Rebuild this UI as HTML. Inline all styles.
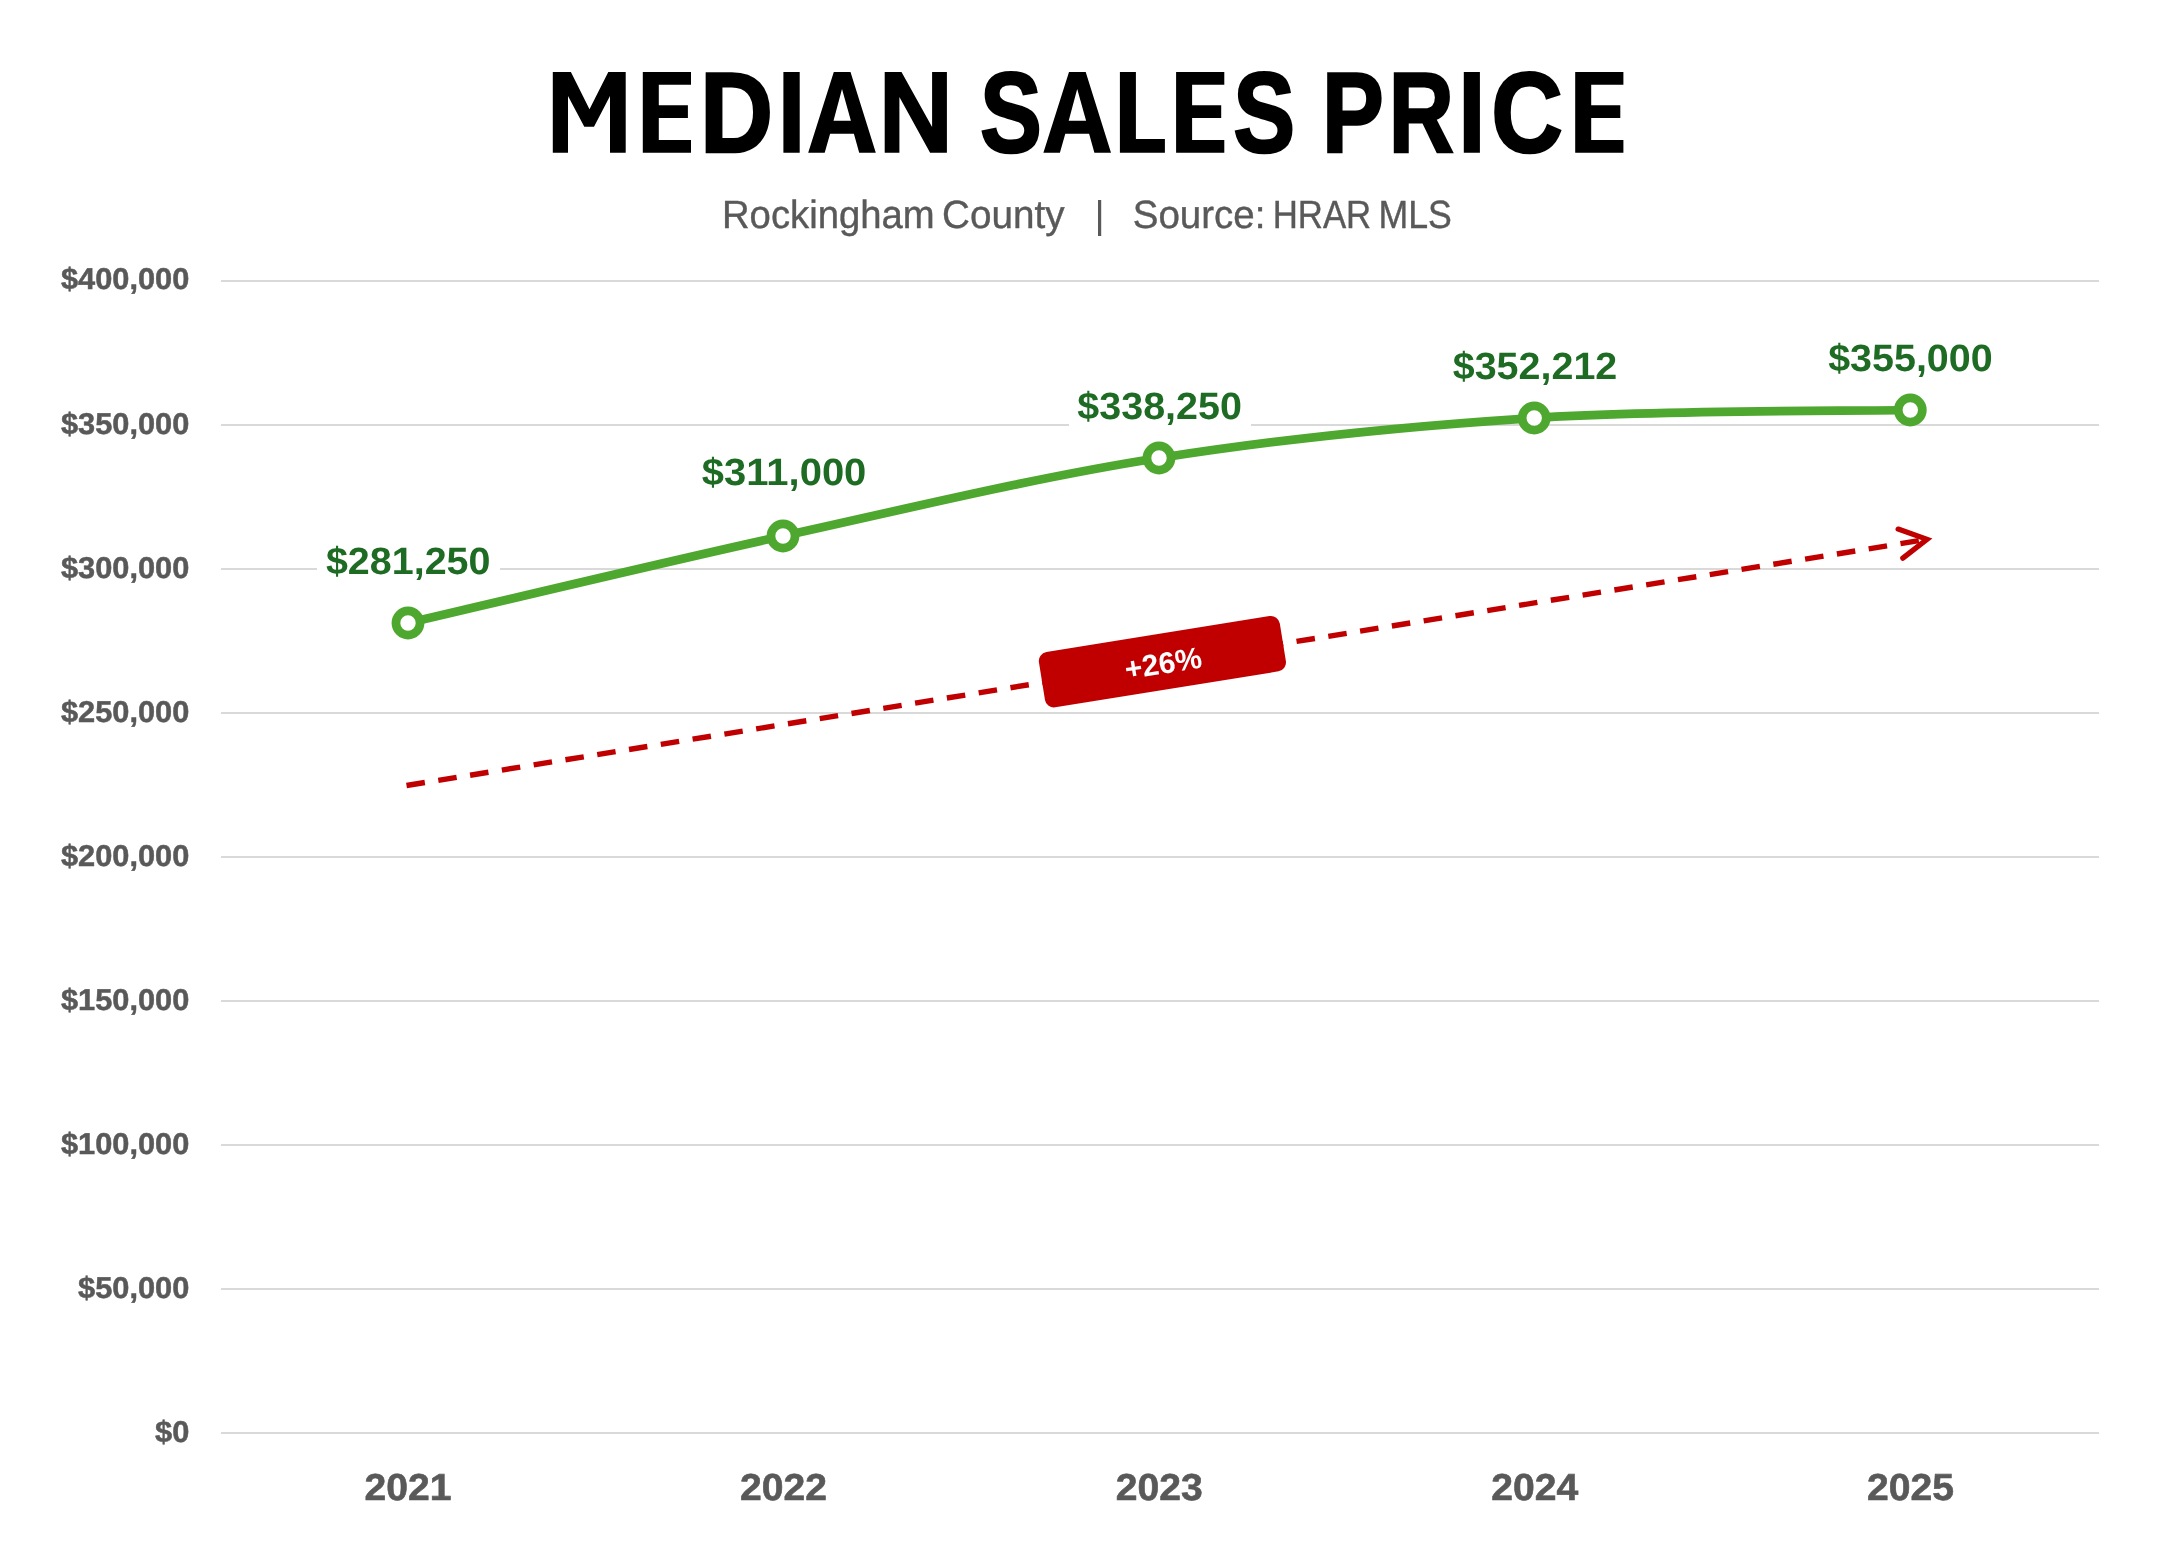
<!DOCTYPE html>
<html>
<head>
<meta charset="utf-8">
<style>
html,body{margin:0;padding:0;background:#fff;}
body{width:2170px;height:1560px;overflow:hidden;}
svg{display:block;will-change:transform;}
text{font-family:"Liberation Sans",sans-serif;text-rendering:geometricPrecision;}
</style>
</head>
<body>
<svg width="2170" height="1560" viewBox="0 0 2170 1560">
<rect x="0" y="0" width="2170" height="1560" fill="#fff"/>
<!-- title -->
<path fill="#000" fill-rule="evenodd" d="M552.8,72.0 L570.9,72.0 L589.5,109.2 L608.3,72.0 L625.7,72.0 L625.7,152.7 L610.0,152.7 L610.0,96.1 L594.0,126.8 L584.3,126.8 L568.0,96.1 L568.0,152.7 L552.8,152.7 Z M642.8,72.0 L691.0,72.0 L691.0,84.8 L658.8,84.8 L658.8,105.2 L687.9,105.2 L687.9,117.9 L658.8,117.9 L658.8,140.0 L691.0,140.0 L691.0,152.7 L642.8,152.7 Z M783.4,72.0 L799.7,72.0 L799.7,152.7 L783.4,152.7 Z M808.2,152.7 L833.8,72.0 L850.5,72.0 L875.8,152.7 L859.2,152.7 L853.9,133.8 L830.1,133.8 L824.7,152.7 Z M833.5,120.7 L842.0,89.1 L850.9,120.7 Z M884.7,72.0 L901.5,72.0 L932.1,127.1 L932.1,72.0 L946.9,72.0 L946.9,152.7 L930.1,152.7 L899.4,97.0 L899.4,152.7 L884.7,152.7 Z M1043.4,152.7 L1069.0,72.0 L1085.7,72.0 L1111.0,152.7 L1094.4,152.7 L1089.1,133.8 L1065.3,133.8 L1059.9,152.7 Z M1068.7,120.7 L1077.2,89.1 L1086.1,120.7 Z M1119.9,72.0 L1135.9,72.0 L1135.9,139.0 L1164.9,139.0 L1164.9,152.7 L1119.9,152.7 Z M1176.1,72.0 L1224.3,72.0 L1224.3,84.8 L1192.1,84.8 L1192.1,105.2 L1221.2,105.2 L1221.2,117.9 L1192.1,117.9 L1192.1,140.0 L1224.3,140.0 L1224.3,152.7 L1176.1,152.7 Z M1463.8,72.0 L1479.9,72.0 L1479.9,152.7 L1463.8,152.7 Z M1575.2,72.0 L1623.4,72.0 L1623.4,84.8 L1591.2,84.8 L1591.2,105.2 L1620.3,105.2 L1620.3,117.9 L1591.2,117.9 L1591.2,140.0 L1623.4,140.0 L1623.4,152.7 L1575.2,152.7 Z"/>
<g font-size="114.10" font-weight="bold" fill="#000" stroke="#000" stroke-width="2.50">
<text transform="translate(699.94 151.75) scale(0.8872 1)">D</text>
<text transform="translate(979.94 151.75) scale(0.8129 1)">S</text>
<text transform="translate(1233.24 151.75) scale(0.8129 1)">S</text>
<text transform="translate(1321.92 151.75) scale(0.8111 1)">P</text>
<text transform="translate(1388.86 151.75) scale(0.7901 1)">R</text>
<text transform="translate(1491.22 151.75) scale(0.8690 1)">C</text>
</g>
<!-- subtitle -->
<g fill="#595959" stroke="#595959" stroke-width="0.40" font-size="39.39">
<text x="721.96" y="227.70" textLength="212.76" lengthAdjust="spacingAndGlyphs">Rockingham</text>
<text x="942.04" y="227.70" textLength="122.44" lengthAdjust="spacingAndGlyphs">County</text>
<text x="1132.75" y="227.70" textLength="132.66" lengthAdjust="spacingAndGlyphs">Source:</text>
<text x="1272.65" y="227.70" textLength="98.57" lengthAdjust="spacingAndGlyphs">HRAR</text>
<text x="1378.47" y="227.70" textLength="73.36" lengthAdjust="spacingAndGlyphs">MLS</text>
<rect x="1098" y="200" width="3.2" height="36" stroke="none"/>
</g>
<!-- gridlines -->
<g fill="#D9D9D9">
<rect x="221" y="280" width="1878" height="2"/>
<rect x="221" y="424" width="1878" height="2"/>
<rect x="221" y="568" width="1878" height="2"/>
<rect x="221" y="712" width="1878" height="2"/>
<rect x="221" y="856" width="1878" height="2"/>
<rect x="221" y="1000" width="1878" height="2"/>
<rect x="221" y="1144" width="1878" height="2"/>
<rect x="221" y="1288" width="1878" height="2"/>
<rect x="221" y="1432" width="1878" height="2"/>
</g>
<!-- y axis labels -->
<g fill="#595959" stroke="#595959" stroke-width="0.5" font-size="30.0" font-weight="bold" text-anchor="end">
<text x="189.4" y="289.40" textLength="128.5" lengthAdjust="spacingAndGlyphs">$400,000</text>
<text x="189.4" y="433.53" textLength="128.5" lengthAdjust="spacingAndGlyphs">$350,000</text>
<text x="189.4" y="577.66" textLength="128.5" lengthAdjust="spacingAndGlyphs">$300,000</text>
<text x="189.4" y="721.79" textLength="128.5" lengthAdjust="spacingAndGlyphs">$250,000</text>
<text x="189.4" y="865.92" textLength="128.5" lengthAdjust="spacingAndGlyphs">$200,000</text>
<text x="189.4" y="1010.05" textLength="128.5" lengthAdjust="spacingAndGlyphs">$150,000</text>
<text x="189.4" y="1154.18" textLength="128.5" lengthAdjust="spacingAndGlyphs">$100,000</text>
<text x="189.4" y="1298.31" textLength="111.4" lengthAdjust="spacingAndGlyphs">$50,000</text>
<text x="189.4" y="1442.44" textLength="34.3" lengthAdjust="spacingAndGlyphs">$0</text>
</g>
<!-- x axis labels -->
<g fill="#595959" stroke="#595959" stroke-width="0.6" font-size="37.6" font-weight="bold" text-anchor="middle">
<text x="408" y="1499.7" textLength="87" lengthAdjust="spacingAndGlyphs">2021</text>
<text x="783.6" y="1499.7" textLength="87" lengthAdjust="spacingAndGlyphs">2022</text>
<text x="1159.2" y="1499.7" textLength="87" lengthAdjust="spacingAndGlyphs">2023</text>
<text x="1534.8" y="1499.7" textLength="87" lengthAdjust="spacingAndGlyphs">2024</text>
<text x="1910.4" y="1499.7" textLength="87" lengthAdjust="spacingAndGlyphs">2025</text>
</g>
<!-- label backgrounds -->
<g fill="#fff">
<rect x="317" y="538" width="183" height="50"/>
<rect x="693" y="449" width="183" height="50"/>
<rect x="1069" y="383" width="182" height="50"/>
<rect x="1444" y="343" width="182" height="50"/>
<rect x="1820" y="335" width="182" height="50"/>
</g>
<!-- data labels -->
<g fill="#1E6B24" font-size="38" font-weight="bold" text-anchor="middle" lengthAdjust="spacingAndGlyphs">
<text x="408.2" y="574.1" textLength="164.5" lengthAdjust="spacingAndGlyphs">$281,250</text>
<text x="784.1" y="485.2" textLength="164.5" lengthAdjust="spacingAndGlyphs">$311,000</text>
<text x="1159.6" y="419.1" textLength="164.5" lengthAdjust="spacingAndGlyphs">$338,250</text>
<text x="1535" y="379.3" textLength="164.5" lengthAdjust="spacingAndGlyphs">$352,212</text>
<text x="1910.4" y="371.1" textLength="164.5" lengthAdjust="spacingAndGlyphs">$355,000</text>
</g>
<!-- series line -->
<path d="M408.0,623.0 C470.5,608.5 657.8,563.5 783.0,536.0 C908.2,508.5 1033.8,477.7 1159.0,458.0 C1284.2,438.3 1409.0,426.0 1534.2,418.0 C1659.4,410.0 1847.6,411.3 1910.3,410.0" fill="none" stroke="#4EA72E" stroke-width="8.7" stroke-linejoin="round"/>
<g fill="#fff" stroke="#4EA72E" stroke-width="8.7">
<circle cx="408" cy="623" r="12.05"/>
<circle cx="783" cy="536" r="12.05"/>
<circle cx="1159" cy="458" r="12.05"/>
<circle cx="1534.2" cy="418" r="12.05"/>
<circle cx="1910.3" cy="410" r="12.05"/>
</g>
<!-- trend arrow -->
<line x1="406.5" y1="785.5" x2="1926.9" y2="539.4" stroke="#C00000" stroke-width="5.4" stroke-dasharray="18.6 13.6"/>
<polyline points="1898.16,529.12 1926.96,539.36 1902.84,558.14" fill="none" stroke="#C00000" stroke-width="5.3" stroke-linecap="round" stroke-linejoin="miter"/>
<!-- badge -->
<g transform="translate(1162.4,661.7) rotate(-9.16)">
<rect x="-122" y="-28" width="244" height="56" rx="9" ry="9" fill="#C00000"/>
<text x="0.5" y="12" font-size="30" font-weight="bold" fill="#fff" text-anchor="middle">+26%</text>
</g>
</svg>
</body>
</html>
